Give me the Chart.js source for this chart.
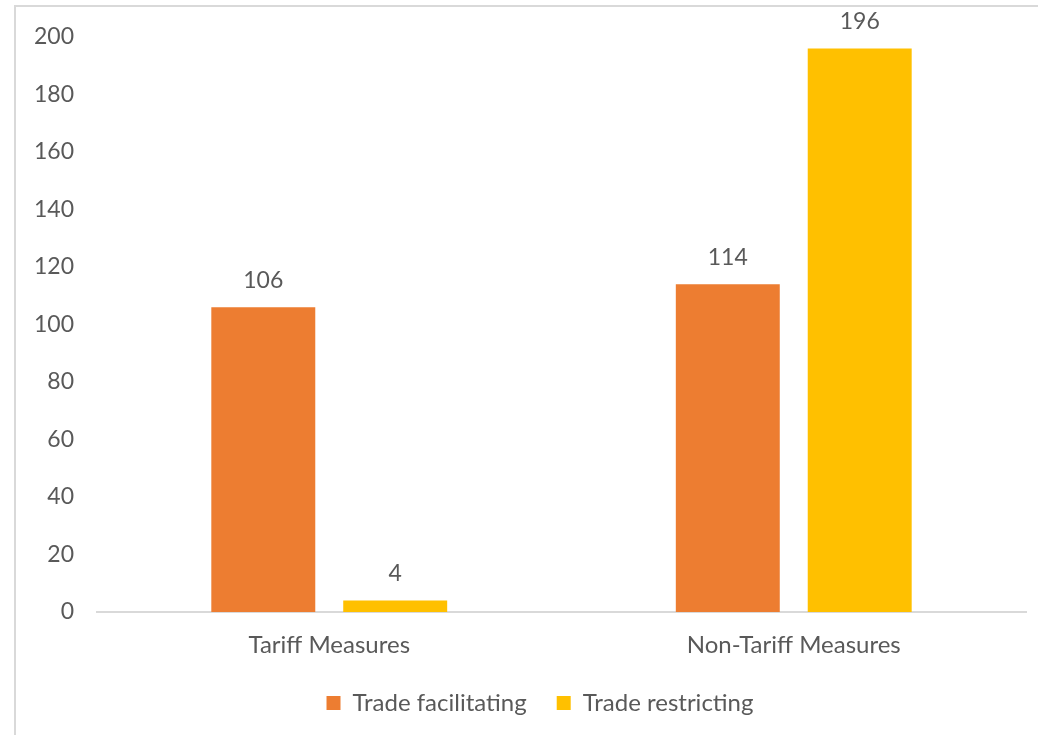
<!DOCTYPE html>
<html>
<head>
<meta charset="utf-8">
<script src="https://cdn.jsdelivr.net/npm/chart.js@4.4.1/dist/chart.umd.min.js"></script>
<style>
    html, body { margin: 0; padding: 0; background: #fff; overflow: hidden; }
    #frame {
        position: absolute; left: 14px; top: 5px; width: 1100px; height: 800px;
        border-top: 2px solid #d9d9d9; border-left: 2px solid #d9d9d9;
    }
    #wrap { position: absolute; left: 0; top: 0; width: 1038px; height: 735px; }
</style>
</head>
<body>
<div id="frame"></div>
<div id="wrap"><canvas id="chart"></canvas></div>
<script>
const categories = ["Tariff Measures", "Non-Tariff Measures"];
const facilitating = [106, 114];
const restricting = [4, 196];
const seriesNames = ["Trade facilitating", "Trade restricting"];

const textColor = "#595959";
const fontFamily = "Lato, 'Open Sans', sans-serif";

// value labels above the bars
const barLabels = {
    id: "barLabels",
    afterDatasetsDraw(chart) {
        const ctx = chart.ctx;
        ctx.save();
        ctx.font = "23px " + fontFamily;
        ctx.fillStyle = textColor;
        ctx.textAlign = "center";
        ctx.textBaseline = "middle";
        chart.data.datasets.forEach((ds, i) => {
            chart.getDatasetMeta(i).data.forEach((bar, j) => {
                ctx.fillText(ds.data[j], bar.x, bar.y - 27);
            });
        });
        ctx.restore();
    }
};

// legend sits a bit right of the canvas centre in the original
const legendShift = {
    id: "legendShift",
    afterLayout(chart) {
        chart.legend.left += 54;
    }
};

new Chart(document.getElementById("chart").getContext("2d"), {
    type: "bar",
    data: {
        labels: categories,
        datasets: [
            { label: seriesNames[0], data: facilitating, backgroundColor: "#ED7D31" },
            { label: seriesNames[1], data: restricting, backgroundColor: "#FFC000" }
        ]
    },
    options: {
        responsive: true,
        maintainAspectRatio: false,
        animation: false,
        datasets: { bar: { categoryPercentage: 0.568, barPercentage: 0.788 } },
        layout: { padding: { left: 0, right: 12, top: 37, bottom: 10 } },
        plugins: {
            tooltip: { enabled: false },
            legend: {
                position: "bottom",
                labels: {
                    boxWidth: 14, boxHeight: 14, padding: 30,
                    color: textColor,
                    font: { family: fontFamily, size: 24 }
                }
            }
        },
        scales: {
            x: {
                grid: { display: false },
                border: { color: "#d9d9d9", width: 2 },
                afterFit(scale) { scale.height = 49; },
                ticks: { color: textColor, padding: 11, font: { family: fontFamily, size: 24 } }
            },
            y: {
                min: 0, max: 200,
                grid: { display: false },
                border: { display: false },
                afterFit(scale) { scale.width = 97; },
                ticks: { stepSize: 20, color: textColor, padding: 15, font: { family: fontFamily, size: 23 } }
            }
        }
    },
    plugins: [barLabels, legendShift]
});
</script>
</body>
</html>
